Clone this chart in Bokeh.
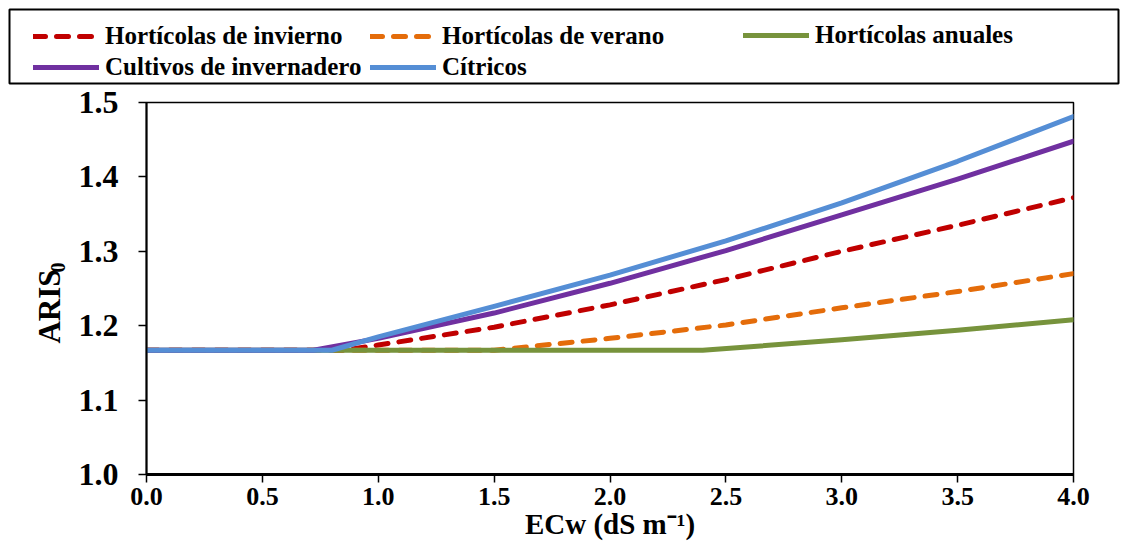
import math
from bokeh.plotting import figure
from bokeh.layouts import column, row
from bokeh.models import (Range1d, FixedTicker, NumeralTickFormatter, Legend,
                          LegendItem, BoxAnnotation, Label)
from bokeh.embed import file_html
from bokeh.resources import INLINE

# ---- data: ARIS0 versus irrigation water salinity (ECw, dS/m) ----
ecw_invierno = [0.0, 0.85, 1.0, 1.5, 2.0, 2.5, 3.0, 3.5, 4.0]
aris_invierno = [1.167, 1.167, 1.174, 1.198, 1.228, 1.262, 1.300, 1.335, 1.372]

ecw_verano = [0.0, 1.5, 2.0, 2.5, 3.0, 3.5, 4.0]
aris_verano = [1.167, 1.167, 1.183, 1.201, 1.224, 1.246, 1.270]

ecw_anuales = [0.0, 2.4, 3.0, 3.5, 4.0]
aris_anuales = [1.167, 1.167, 1.181, 1.194, 1.208]

ecw_invernadero = [0.0, 0.72, 1.0, 1.5, 2.0, 2.5, 3.0, 3.5, 4.0]
aris_invernadero = [1.167, 1.167, 1.183, 1.217, 1.257, 1.301, 1.349, 1.397, 1.448]

ecw_citricos = [0.0, 0.8, 1.0, 1.5, 2.0, 2.5, 3.0, 3.5, 4.0]
aris_citricos = [1.167, 1.167, 1.185, 1.226, 1.268, 1.314, 1.365, 1.421, 1.481]

series_names = ["Hortícolas de invierno", "Hortícolas de verano", "Hortícolas anuales",
                "Cultivos de invernadero", "Cítricos"]

x_ticks = [0.0, 0.5, 1.0, 1.5, 2.0, 2.5, 3.0, 3.5, 4.0]
y_ticks = [1.0, 1.1, 1.2, 1.3, 1.4, 1.5]

# ---- layout ----
W, H = 1123, 553
LEG_H = 85                               # height of the legend strip
YT_W = 70                                # width of the y-title strip
FL, FR, FT, FB = 146, 1073, 102, 474     # plot frame edges in page pixels
FONT = "Liberation Serif"

styles = [
    dict(line_color="#C00000", line_dash="12 11"),
    dict(line_color="#E46C0A", line_dash="12 11"),
    dict(line_color="#77933C"),
    dict(line_color="#7030A0"),
    dict(line_color="#558ED5"),
]
LINE_W = 5

# ---- main chart ----
p = figure(width=W - YT_W, height=H - LEG_H, x_range=Range1d(0, 4), y_range=Range1d(1.0, 1.5),
           output_backend="svg", toolbar_location=None,
           min_border_left=FL - YT_W, min_border_right=W - FR,
           min_border_top=FT - LEG_H, min_border_bottom=H - FB)
p.xgrid.visible = False
p.ygrid.visible = False
p.outline_line_color = "black"
p.outline_line_width = 1.5
p.outline_line_alpha = 1.0

for ax, ticks in ((p.xaxis, x_ticks), (p.yaxis, y_ticks)):
    ax.ticker = FixedTicker(ticks=ticks)
    ax.formatter = NumeralTickFormatter(format="0.0")
    ax.axis_line_color = "black"
    ax.axis_line_width = 2
    ax.major_tick_line_color = "black"
    ax.major_tick_line_width = 1.5
    ax.major_tick_out = 8
    ax.major_tick_in = 0
    ax.minor_tick_line_color = None
    ax.major_label_text_font = FONT
    ax.major_label_text_font_style = "bold"
    ax.major_label_text_color = "black"
    ax.axis_label_text_font = FONT
    ax.axis_label_text_font_style = "bold"
    ax.axis_label_text_color = "black"

p.xaxis.major_label_text_font_size = "26px"
p.xaxis.major_label_standoff = 5
p.xaxis.axis_line_width = 3
p.xaxis.axis_label = "ECw (dS m⁻¹)"
p.xaxis.axis_label_text_font_size = "29px"
p.xaxis.axis_label_standoff = 0

p.yaxis.major_label_text_font_size = "32px"
p.yaxis.major_label_standoff = 20

xs = [ecw_invierno, ecw_verano, ecw_anuales, ecw_invernadero, ecw_citricos]
ys = [aris_invierno, aris_verano, aris_anuales, aris_invernadero, aris_citricos]
for x, y, st in zip(xs, ys, styles):
    p.line(x, y, line_width=LINE_W, line_cap="round", line_join="round", **st)


def strip(width, height):
    """Axis-free figure whose frame fills its canvas, one unit per pixel (y up)."""
    f = figure(width=width, height=height, x_range=Range1d(0, width),
               y_range=Range1d(0, height), output_backend="svg",
               toolbar_location=None, x_axis_type=None, y_axis_type=None,
               min_border=0)
    f.xgrid.visible = False
    f.ygrid.visible = False
    f.outline_line_color = None
    return f


# ---- y-axis title with a real subscript ----
YT_H = H - LEG_H
yt = strip(YT_W, YT_H)


def yt_y(page_y):
    return YT_H - (page_y - LEG_H)


title_style = dict(text_font=FONT, text_font_style="bold", text_color="black",
                   angle=math.pi / 2, text_baseline="middle")
yt.add_layout(Label(x=49, y=yt_y(306), text="ARIS", text_align="center",
                    text_font_size="31px", **title_style))
yt.add_layout(Label(x=57, y=yt_y(272), text="0", text_align="left",
                    text_font_size="20px", **title_style))

# ---- legend strip: framed box with three columns of entries ----
lg = strip(W, LEG_H)

# swatch renderers: a single empty (NaN) vertex each, only their style is shown
nan = float("nan")
swatches = [lg.line([nan], [nan], line_width=LINE_W, line_cap="round", **st) for st in styles]

lg.add_layout(BoxAnnotation(left=9, right=1118, top=LEG_H - 9, bottom=LEG_H - 83,
                            fill_alpha=0, line_color="black", line_alpha=1.0,
                            line_width=2))

leg_style = dict(orientation="vertical", glyph_width=66, glyph_height=24,
                 label_standoff=6, spacing=3, padding=0, margin=0,
                 border_line_color=None, background_fill_alpha=0,
                 label_text_font=FONT, label_text_font_style="bold",
                 label_text_font_size="25px", label_text_color="black",
                 label_height=24)
# (left edge of the swatches, bottom edge of the column) in strip pixels
columns = [((33, 81), [0, 3]), ((370, 81), [1, 4]), ((743, 49), [2])]
for (sx, sb), idx in columns:
    items = [LegendItem(label=series_names[i], renderers=[swatches[i]]) for i in idx]
    lg.add_layout(Legend(items=items, location=(sx, LEG_H - sb), **leg_style))

# every panel keeps its own frame instead of lining up with its neighbours
for fig in (lg, yt, p):
    if "frame_align" in fig.properties():
        fig.frame_align = False

page = column(lg, row(yt, p, spacing=0), spacing=0)
open("out.html", "w").write(file_html(page, INLINE))
